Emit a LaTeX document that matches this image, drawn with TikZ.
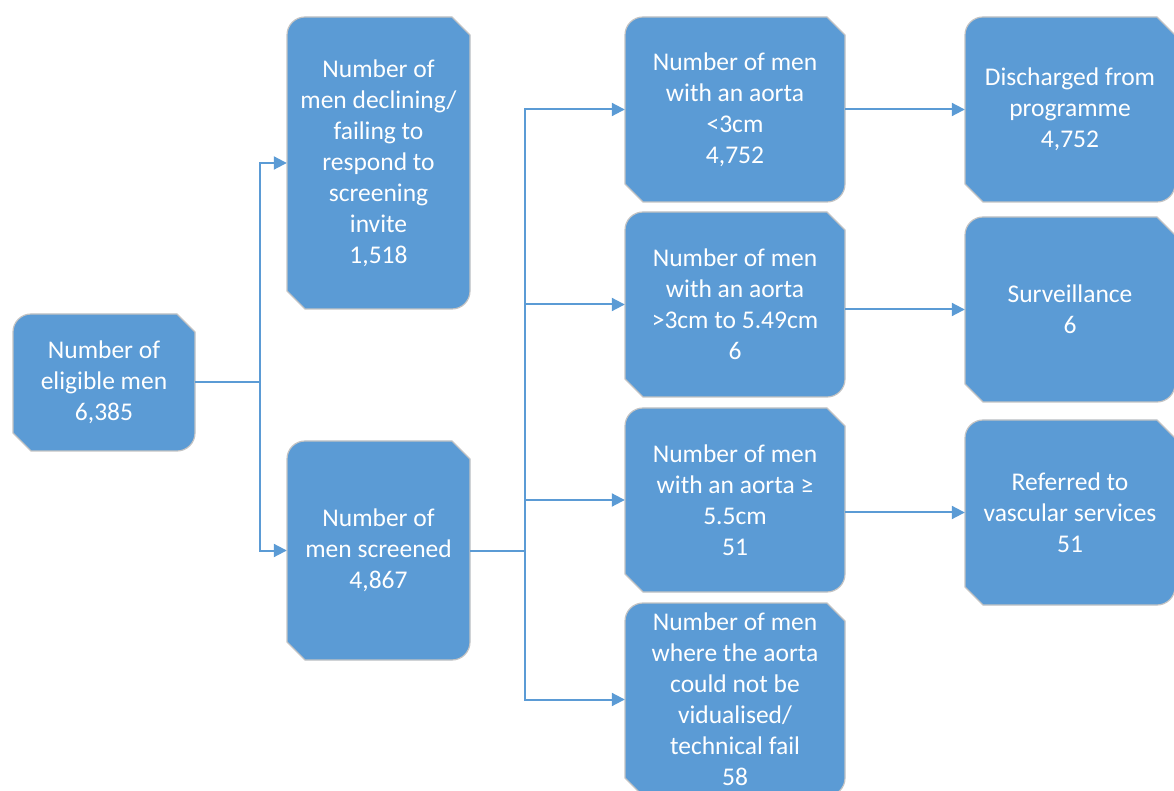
\documentclass[tikz,border=0pt]{standalone}
\usepackage{fontspec}
\setmainfont{Carlito}
\usetikzlibrary{arrows.meta,calc}
\definecolor{boxblue}{HTML}{5B9BD5}
\definecolor{edgegrey}{HTML}{C3C3C3}
\tikzset{
  boxshape/.style={fill=boxblue,draw=edgegrey,line width=1.2pt},
  boxtext/.style={shape=rectangle,inner sep=0pt,draw=none,align=center,text=white,
    font=\fontsize{25.5}{31}\selectfont},
  conn/.style={draw=boxblue,line width=2pt,-{Triangle[length=13pt,width=13pt]}},
}
% name, left, top, right, bottom (pixel coords from top-left), text
\newcommand\snipbox[6]{%
  \pgfmathsetmacro\bL{#2}\pgfmathsetmacro\bT{790-#3}%
  \pgfmathsetmacro\bR{#4}\pgfmathsetmacro\bB{790-#5}%
  \pgfmathsetmacro\bW{#4-#2}\pgfmathsetmacro\bH{#5-#3}%
  \pgfmathsetmacro\bX{(#2+#4)/2}\pgfmathsetmacro\bY{790-(#3+#5)/2}%
  \draw[boxshape] (\bL,\bB+18) -- (\bL,\bT-18) arc[start angle=180,end angle=90,radius=18pt]
    -- (\bR-18,\bT) -- (\bR,\bT-18) -- (\bR,\bB+18) arc[start angle=0,end angle=-90,radius=18pt]
    -- (\bL+18,\bB) -- cycle;
  \node[boxtext,minimum width=\bW pt,minimum height=\bH pt] (#1) at (\bX,\bY) {#6};
}
\begin{document}
\begin{tikzpicture}[x=1pt,y=1pt]
\useasboundingbox (0,0) rectangle (1174,790);
\clip (0,0) rectangle (1174,790);
\snipbox{A}{13}{314}{195}{451}{Number of\\eligible men\\6,385}
\snipbox{B}{287}{17}{470}{309}{Number of\\men declining/\\failing to\\respond to\\screening\\invite\\1,518}
\snipbox{C}{287}{441}{470}{660}{Number of\\men screened\\4,867}
\snipbox{D}{625}{17}{845}{202}{Number of men\\with an aorta\\<3cm\\4,752}
\snipbox{E}{625}{212}{845}{397}{Number of men\\with an aorta\\>3cm to 5.49cm\\6}
\snipbox{F}{625}{408}{845}{592}{Number of men\\with an aorta ≥\\5.5cm\\51}
\snipbox{G}{625}{603}{845}{796}{Number of men\\where the aorta\\could not be\\vidualised/\\technical fail\\58}
\snipbox{H}{965}{17}{1175}{202}{Discharged from\\programme\\4,752}
\snipbox{I}{965}{217}{1175}{402}{Surveillance\\6}
\snipbox{J}{965}{420}{1175}{605}{Referred to\\vascular services\\51}
\coordinate (j1) at ($(A.east)+(65,0)$);
\coordinate (j2) at ($(C.east)+(55,0)$);
\draw[conn] (A.east) -- (j1) |- (B.west);
\draw[conn] (A.east) -- (j1) |- (C.west);
\draw[conn] (C.east) -- (j2) |- (D.west);
\draw[conn] (C.east) -- (j2) |- (E.west);
\draw[conn] (C.east) -- (j2) |- (F.west);
\draw[conn] (C.east) -- (j2) |- (G.west);
\draw[conn] (D.east) -- (H.west);
\draw[conn] (E.east |- I.west) -- (I.west);
\draw[conn] (F.east |- J.west) -- (J.west);
\end{tikzpicture}
\end{document}
